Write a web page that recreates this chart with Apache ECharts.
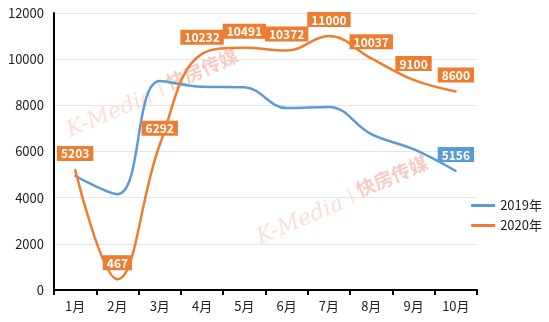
<!DOCTYPE html>
<html><head><meta charset="utf-8">
<script src="https://cdn.jsdelivr.net/npm/echarts@6/dist/echarts.min.js"></script>
<style>html,body{margin:0;padding:0;background:#fff}#c{width:549px;height:322px}</style>
</head><body><div id="c"></div>
<script>
const categories = ['1月','2月','3月','4月','5月','6月','7月','8月','9月','10月'];
const values2019 = [4950, 4150, 9050, 8800, 8780, 7880, 7930, 6750, 6100, 5156];
const values2020 = [5203, 467, 6292, 10232, 10491, 10372, 11000, 10037, 9100, 8600];
const seriesNames = ['2019年', '2020年'];
const yTicks = [0, 2000, 4000, 6000, 8000, 10000, 12000];

const blue = '#5B9BD5', orange = '#ED7D31';
const chart = echarts.init(document.getElementById('c'));
function wm(x, y, rot) {
  return {
    type: 'group', x: x, y: y, rotation: rot, silent: true, z: 0,
    children: [
      { type: 'text', x: 0, y: 4, style: { text: 'K-Media', font: 'italic 200 22px "DejaVu Serif"', fill: 'rgba(240,160,140,0.35)' } },
      { type: 'text', x: 100, y: 2, style: { text: '|', font: '18px sans-serif', fill: 'rgba(240,160,140,0.35)' } },
      { type: 'text', x: 110, y: 0, style: { text: '快房传媒', font: 'bold 19px "Noto Sans CJK SC"', fill: 'rgba(240,140,120,0.45)' } }
    ]
  };
}
function labelStyle(color) {
  return {
    show: true, position: 'top', distance: 8,
    backgroundColor: color, color: '#fff', fontWeight: 'bold', fontSize: 12,
    padding: [2, 4, 1, 4]
  };
}
const data2019 = values2019.map((v, i) => i === values2019.length - 1 ? { value: v, label: labelStyle(blue) } : v);
chart.setOption({
  animation: false,
  textStyle: { fontFamily: '"Noto Sans CJK SC", sans-serif' },
  grid: { left: 54, right: 72, top: 13, bottom: 32 },
  legend: {
    orient: 'vertical', right: 2, top: 194, itemGap: 7, itemWidth: 24, itemHeight: 3,
    icon: 'rect',
    textStyle: { fontSize: 13, color: '#222' },
    data: seriesNames
  },
  graphic: [wm(62, 118, 0.4), wm(252, 225, 0.4)],
  xAxis: {
    type: 'category', data: categories, boundaryGap: true,
    axisLine: { lineStyle: { color: '#000', width: 2 } },
    axisTick: { show: true, length: 5, lineStyle: { color: '#000', width: 2 } },
    axisLabel: { fontSize: 13, color: '#222', margin: 10 }
  },
  yAxis: {
    type: 'value', min: yTicks[0], max: yTicks[yTicks.length - 1], interval: 2000,
    axisLine: { show: true, lineStyle: { color: '#000', width: 2 } },
    axisTick: { show: false },
    axisLabel: { fontSize: 13, color: '#222', margin: 10, formatter: v => String(v) },
    splitLine: { lineStyle: { color: '#e6e6e6' } }
  },
  series: [
    {
      name: seriesNames[0], type: 'line', data: data2019, smooth: 0.4,
      showSymbol: true, symbol: 'circle', symbolSize: 2, z: 3,
      lineStyle: { color: blue, width: 2.5 }, itemStyle: { color: blue },
      label: { show: false }
    },
    {
      name: seriesNames[1], type: 'line', data: values2020, smooth: 0.4,
      showSymbol: true, symbol: 'circle', symbolSize: 2, z: 4,
      lineStyle: { color: orange, width: 2.5 }, itemStyle: { color: orange },
      label: labelStyle(orange)
    }
  ]
});
</script></body></html>
